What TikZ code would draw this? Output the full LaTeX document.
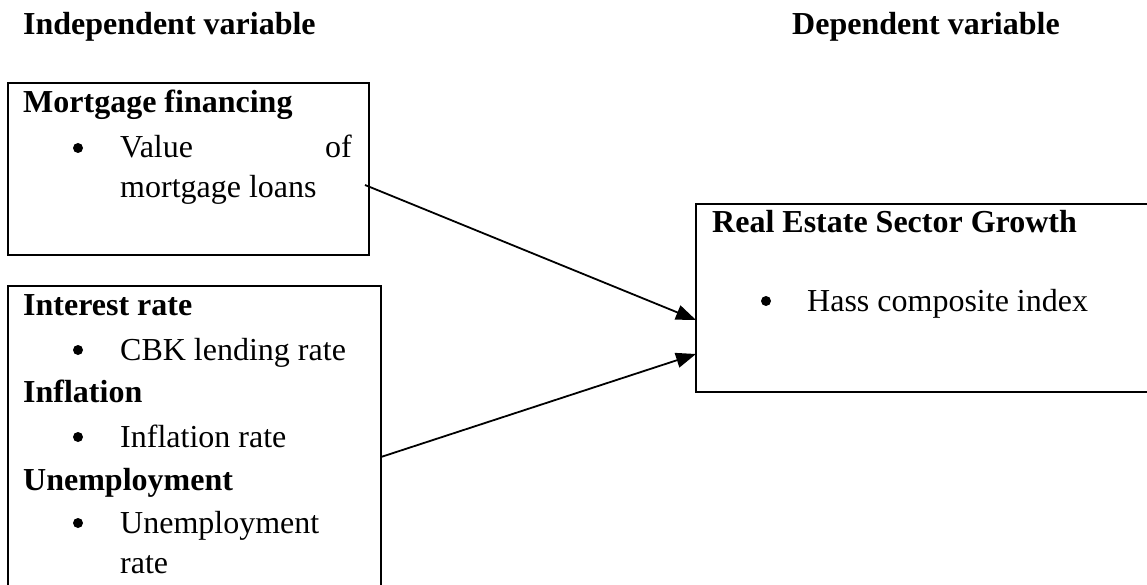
\documentclass[tikz,border=0pt]{standalone}
\usepackage{fontspec}
\setmainfont{Liberation Serif}
\usetikzlibrary{arrows.meta}
\begin{document}
\begin{tikzpicture}[x=1pt,y=-1pt,
  every node/.style={font=\fontsize{32}{38}\selectfont},
  boxnode/.style={draw,line width=2.6pt,inner sep=0pt,rectangle},
  txt/.style={anchor=base west,inner sep=0pt},
  head/.style={txt,font=\fontsize{32}{38}\selectfont\bfseries},
  bul/.style={circle,fill,inner sep=0pt,minimum size=10pt},
  arr/.style={line width=1.8pt,-{Triangle[length=20pt,width=15pt]}}]
\useasboundingbox (0,0) rectangle (1147,585);
\clip (0,0) rectangle (1147,585);
\fill[white] (0,0) rectangle (1147,585);
% headings
\node[head] (indep) at (23,35) {Independent variable};
\node[head] (dep) at (792,35) {Dependent variable};
% boxes
\node[boxnode,minimum width=361pt,minimum height=172pt] (mort) at (188.5,169) {};
\node[boxnode,minimum width=373pt,minimum height=334pt] (macro) at (194.5,453) {};
\node[boxnode,minimum width=474pt,minimum height=188pt] (growth) at (933,298) {};
% box 1 text
\node[head] (t1) at (23,113) {Mortgage financing};
\node[bul] (b1) at (78,148) {};
\node[txt] (t2) at (120,158) {Value};
\node[anchor=base east,inner sep=0pt] (t3) at (352,158) {of};
\node[txt] (t4) at (120,198) {mortgage loans};
% box 2 text
\node[head] (u1) at (23,315) {Interest rate};
\node[bul] (c1) at (78,350) {};
\node[txt] (u2) at (120,360) {CBK lending rate};
\node[head] (u3) at (23,402) {Inflation};
\node[bul] (c2) at (78,437) {};
\node[txt] (u4) at (120,447) {Inflation rate};
\node[head] (u5) at (23,490) {Unemployment};
\node[bul] (c3) at (78,523) {};
\node[txt] (u6) at (120,533) {Unemployment};
\node[txt] (u7) at (120,573) {rate};
% box 3 text
\node[head] (g1) at (712,233) {Real Estate Sector Growth};
\node[bul] (d1) at (766,301) {};
\node[txt] (g2) at (807,311) {Hass composite index};
% connectors
\coordinate (s1) at (365,185);
\coordinate (e1) at (696,320);
\coordinate (s2) at (381,457);
\coordinate (e2) at (696,354);
\draw[arr] (s1) -- (e1);
\draw[arr] (s2) -- (e2);
\end{tikzpicture}
\end{document}
